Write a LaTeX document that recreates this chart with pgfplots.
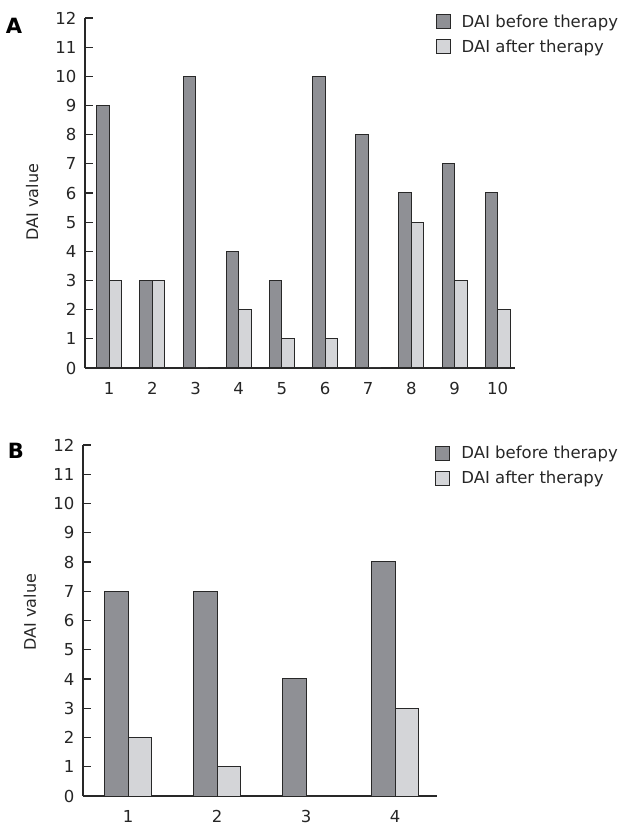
\documentclass[border=0pt]{standalone}
\usepackage{fontspec}
\setmainfont{DejaVu Sans}
\usepackage{pgfplots}
\pgfplotsset{compat=1.18}
\definecolor{darkbar}{RGB}{143,144,149}
\definecolor{lightbar}{RGB}{212,213,216}
\definecolor{edge}{RGB}{40,40,40}

\pgfplotsset{dai/.style={
  scale only axis,
  ybar=0pt,
  axis lines*=left,
  ymin=0, ymax=12, ytick={0,1,...,12},
  xtick=data,
  tick align=inside,
  ytick pos=left,
  major tick length=8pt,
  xtick style={draw=none},
  axis line style={line width=1.1pt, color=edge},
  y tick style={line width=1.1pt, color=edge},
  tick label style={font=\fontsize{16.5}{19}\selectfont, color=black!85},
  yticklabel style={xshift=-5pt},
  xticklabel style={yshift=-11pt},
  /pgf/number format/assume math mode=true,
  ylabel={DAI value},
  ylabel style={font=\fontsize{16}{19}\selectfont, anchor=center, color=black!85},
  legend style={draw=none, fill=none, inner sep=0pt, font=\fontsize{16.5}{19}\selectfont, anchor=north west, cells={anchor=west}, row sep=7pt, text=black!85},
  legend image code/.code={\draw[#1, line width=1pt] (0pt,-7pt) rectangle (14pt,7pt);},
  /tikz/every odd column/.style={column sep=9pt},
  every axis plot/.append style={draw=edge, line width=1pt},
}}

\begin{document}
\begin{tikzpicture}
\path[use as bounding box] (0pt,0pt) rectangle (630pt,838pt);

\begin{axis}[dai,
  at={(85pt,470pt)}, anchor=south west,
  width=430pt, height=350pt,
  xmin=0.44, xmax=10.4,
  bar width=0.29,
  ylabel style={at={(axis description cs:-0.123,0.474)}},
  legend style={at={(axis description cs:0.815,1.015)}},
]
\addplot[fill=darkbar] coordinates {(1,9) (2,3) (3,10) (4,4) (5,3) (6,10) (7,8) (8,6) (9,7) (10,6)};
\addplot[fill=lightbar] coordinates {(1,3) (2,3) (3,0) (4,2) (5,1) (6,1) (7,0) (8,5) (9,3) (10,2)};
\legend{DAI before therapy, DAI after therapy}
\end{axis}

\begin{axis}[dai,
  at={(83pt,42pt)}, anchor=south west,
  width=354pt, height=351pt,
  xmin=0.494, xmax=4.47,
  bar width=0.265,
  ylabel style={at={(axis description cs:-0.150,0.524)}},
  legend style={at={(axis description cs:0.995,1.003)}},
]
\addplot[fill=darkbar] coordinates {(1,7) (2,7) (3,4) (4,8)};
\addplot[fill=lightbar] coordinates {(1,2) (2,1) (3,0) (4,3)};
\legend{DAI before therapy, DAI after therapy}
\end{axis}

\node[font=\fontsize{21}{24}\selectfont\bfseries] at (14pt,812pt) {A};
\node[font=\fontsize{21}{24}\selectfont\bfseries] at (16pt,387pt) {B};
\end{tikzpicture}
\end{document}
